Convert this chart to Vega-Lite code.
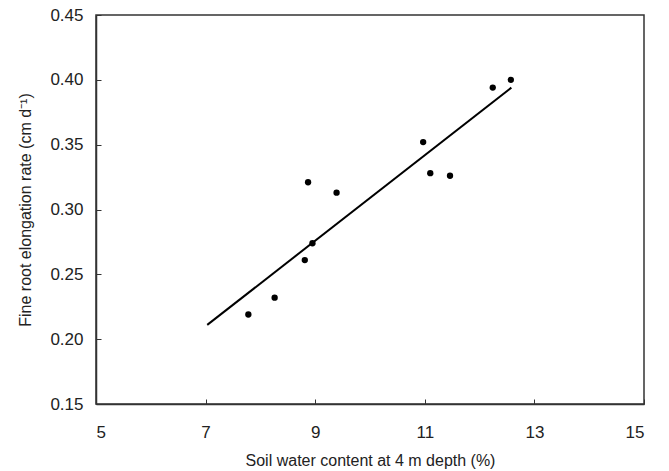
{
  "$schema": "https://vega.github.io/schema/vega-lite/v6.json",
  "width": 548,
  "height": 389,
  "autosize": "none",
  "padding": {"left": 96, "top": 15, "right": 25, "bottom": 67},
  "background": "white",
  "datasets": {
    "points": [
      {"water": 7.78, "rate": 0.219},
      {"water": 8.26, "rate": 0.232},
      {"water": 8.81, "rate": 0.261},
      {"water": 8.95, "rate": 0.274},
      {"water": 8.87, "rate": 0.321},
      {"water": 9.39, "rate": 0.313},
      {"water": 10.97, "rate": 0.352},
      {"water": 11.10, "rate": 0.328},
      {"water": 11.46, "rate": 0.326},
      {"water": 12.24, "rate": 0.394},
      {"water": 12.57, "rate": 0.400}
    ],
    "fit": [
      {"water": 7.03, "rate": 0.211},
      {"water": 12.58, "rate": 0.394}
    ]
  },
  "layer": [
    {
      "data": {"name": "fit"},
      "mark": {"type": "line", "color": "black", "strokeWidth": 2},
      "encoding": {
        "x": {"field": "water", "type": "quantitative"},
        "y": {"field": "rate", "type": "quantitative"}
      }
    },
    {
      "data": {"name": "points"},
      "mark": {"type": "circle", "color": "black", "opacity": 1, "size": 40},
      "encoding": {
        "x": {
          "field": "water", "type": "quantitative",
          "scale": {"domain": [5, 15], "nice": false, "zero": false},
          "axis": {"title": "Soil water content at 4 m depth (%)", "values": [5, 7, 9, 11, 13, 15], "format": "d"}
        },
        "y": {
          "field": "rate", "type": "quantitative",
          "scale": {"domain": [0.15, 0.45], "nice": false, "zero": false},
          "axis": {"title": "Fine root elongation rate (cm d⁻¹)", "values": [0.15, 0.2, 0.25, 0.3, 0.35, 0.4, 0.45], "format": ".2f"}
        }
      }
    }
  ],
  "config": {
    "view": {"stroke": "#333", "strokeWidth": 1.5},
    "axis": {
      "grid": false,
      "domainColor": "#333",
      "domainWidth": 1.5,
      "tickColor": "#333",
      "tickSize": -5,
      "tickWidth": 1,
      "labelFont": "Liberation Sans",
      "labelFontSize": 17,
      "labelColor": "#222",
      "titleFont": "Liberation Sans",
      "titleFontSize": 16,
      "titleFontWeight": "normal",
      "titleColor": "#222"
    },
    "axisX": {"labelPadding": 25, "titlePadding": 12},
    "axisY": {"labelPadding": 18, "titlePadding": 16}
  }
}
